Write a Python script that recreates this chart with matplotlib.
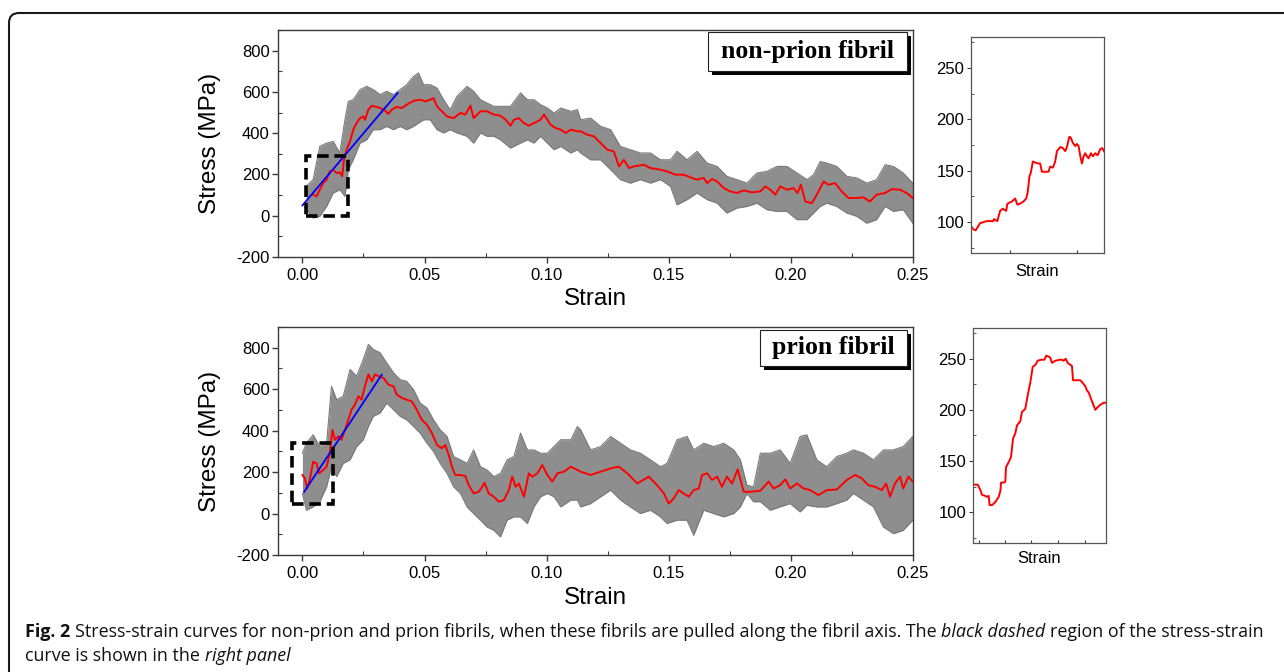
import matplotlib
matplotlib.use('Agg')
import matplotlib.pyplot as plt
from matplotlib.patches import Rectangle, FancyBboxPatch
from matplotlib.transforms import IdentityTransform
from matplotlib.ticker import MultipleLocator, FormatStrFormatter, FixedLocator

# ---------------- data ----------------
# non-prion fibril: smoothed (red) curve
np_red_strain = [0.0044, 0.0058, 0.0071, 0.0085, 0.0099, 0.0112, 0.0126, 0.0140, 0.0153, 0.0163,
                 0.0170, 0.0181, 0.0195, 0.0208, 0.0222, 0.0236, 0.0249, 0.0256, 0.0270, 0.0284,
                 0.0304, 0.0318, 0.0334, 0.0352, 0.0366, 0.0386, 0.0407, 0.0427, 0.0455, 0.0482,
                 0.0503, 0.0523, 0.0537, 0.0551, 0.0571, 0.0592, 0.0619, 0.0647, 0.0667, 0.0688,
                 0.0701, 0.0729, 0.0756, 0.0784, 0.0811, 0.0832, 0.0852, 0.0866, 0.0886, 0.0907,
                 0.0927, 0.0948, 0.0975, 0.0989, 0.1003, 0.1016, 0.1037, 0.1058, 0.1078, 0.1099,
                 0.1126, 0.1139, 0.1166, 0.1193, 0.1221, 0.1248, 0.1275, 0.1296, 0.1316, 0.1337,
                 0.1357, 0.1398, 0.1425, 0.1466, 0.1493, 0.1527, 0.1561, 0.1595, 0.1616, 0.1643,
                 0.1657, 0.1677, 0.1698, 0.1725, 0.1752, 0.1779, 0.1807, 0.1841, 0.1875, 0.1895,
                 0.1916, 0.1936, 0.1956, 0.1984, 0.2011, 0.2027, 0.2041, 0.2059, 0.2086, 0.2106,
                 0.2134, 0.2154, 0.2181, 0.2208, 0.2236, 0.2270, 0.2297, 0.2324, 0.2351, 0.2386,
                 0.2413, 0.2447, 0.2474, 0.2499]
np_red_stress = [102, 94, 126, 158, 175, 215, 223, 207, 210, 191,
                 271, 320, 360, 417, 449, 473, 481, 465, 514, 533,
                 527, 522, 514, 494, 514, 527, 522, 538, 557, 562,
                 554, 562, 570, 530, 506, 481, 473, 498, 490, 533,
                 473, 506, 506, 490, 485, 465, 436, 465, 473, 449,
                 436, 449, 465, 490, 465, 441, 425, 417, 401, 417,
                 409, 409, 393, 385, 352, 320, 312, 239, 271, 231,
                 239, 247, 231, 223, 215, 199, 199, 183, 175, 183,
                 158, 178, 166, 134, 118, 110, 123, 113, 118, 142,
                 126, 102, 142, 126, 134, 110, 150, 69, 61, 102,
                 166, 150, 158, 118, 86, 86, 89, 69, 102, 110,
                 129, 126, 110, 86]

# non-prion fibril: raw (grey) data envelope
np_raw_strain = [0.0016, 0.0044, 0.0071, 0.0099, 0.0126, 0.0153, 0.0174, 0.0188, 0.0208, 0.0236,
                 0.0263, 0.0290, 0.0318, 0.0345, 0.0373, 0.0400, 0.0427, 0.0455, 0.0475, 0.0496,
                 0.0523, 0.0551, 0.0578, 0.0605, 0.0633, 0.0674, 0.0701, 0.0729, 0.0756, 0.0784,
                 0.0811, 0.0852, 0.0893, 0.0921, 0.0948, 0.0975, 0.1003, 0.1030, 0.1058, 0.1099,
                 0.1126, 0.1139, 0.1180, 0.1221, 0.1262, 0.1302, 0.1343, 0.1384, 0.1425, 0.1466,
                 0.1507, 0.1534, 0.1575, 0.1616, 0.1657, 0.1698, 0.1738, 0.1779, 0.1820, 0.1861,
                 0.1902, 0.1943, 0.1984, 0.2025, 0.2066, 0.2093, 0.2120, 0.2147, 0.2188, 0.2229,
                 0.2270, 0.2311, 0.2351, 0.2386, 0.2420, 0.2460, 0.2499]
np_raw_high = [142, 175, 336, 352, 360, 304, 465, 554, 562, 611,
               627, 611, 587, 603, 587, 611, 635, 675, 692, 635,
               635, 619, 562, 514, 579, 627, 603, 562, 546, 530,
               530, 530, 595, 562, 562, 538, 522, 498, 522, 506,
               514, 465, 473, 433, 417, 336, 320, 304, 304, 271,
               271, 312, 271, 312, 255, 239, 191, 175, 158, 207,
               215, 239, 239, 207, 175, 199, 263, 255, 239, 191,
               183, 158, 175, 247, 239, 207, 158]
np_raw_low = [29, -11, -3, 45, 110, 126, 94, 223, 271, 352,
              368, 417, 417, 433, 417, 433, 417, 433, 449, 465,
              465, 417, 401, 417, 401, 385, 352, 401, 385, 385,
              368, 328, 352, 368, 352, 385, 352, 320, 336, 304,
              320, 304, 271, 271, 223, 175, 158, 175, 158, 175,
              142, 53, 78, 110, 78, 61, 13, 37, 45, 61,
              29, 21, 21, -19, -19, 13, 45, 61, 45, 13,
              -3, -36, -19, 45, 21, 29, -36]

# prion fibril: smoothed (red) curve
pr_red_strain = [0.0000, 0.0010, 0.0019, 0.0030, 0.0044, 0.0058, 0.0068, 0.0085, 0.0099, 0.0112,
                 0.0123, 0.0133, 0.0147, 0.0160, 0.0174, 0.0188, 0.0201, 0.0215, 0.0229, 0.0242,
                 0.0256, 0.0270, 0.0284, 0.0297, 0.0311, 0.0332, 0.0352, 0.0373, 0.0386, 0.0407,
                 0.0427, 0.0448, 0.0468, 0.0489, 0.0510, 0.0530, 0.0551, 0.0571, 0.0585, 0.0599,
                 0.0612, 0.0626, 0.0647, 0.0667, 0.0681, 0.0701, 0.0722, 0.0736, 0.0745, 0.0763,
                 0.0784, 0.0804, 0.0825, 0.0845, 0.0859, 0.0873, 0.0886, 0.0907, 0.0927, 0.0941,
                 0.0962, 0.0982, 0.1003, 0.1023, 0.1044, 0.1071, 0.1099, 0.1126, 0.1139, 0.1180,
                 0.1221, 0.1262, 0.1296, 0.1330, 0.1371, 0.1418, 0.1452, 0.1480, 0.1500, 0.1520,
                 0.1541, 0.1561, 0.1582, 0.1602, 0.1623, 0.1636, 0.1657, 0.1677, 0.1698, 0.1718,
                 0.1738, 0.1759, 0.1782, 0.1807, 0.1834, 0.1875, 0.1909, 0.1929, 0.1956, 0.1977,
                 0.1997, 0.2025, 0.2052, 0.2079, 0.2113, 0.2147, 0.2188, 0.2229, 0.2263, 0.2290,
                 0.2317, 0.2345, 0.2372, 0.2390, 0.2406, 0.2426, 0.2447, 0.2460, 0.2481, 0.2499]
pr_red_stress = [186, 170, 121, 162, 250, 242, 194, 210, 226, 291,
                 404, 356, 372, 356, 404, 452, 501, 525, 566, 549,
                 614, 671, 638, 671, 663, 654, 622, 614, 574, 558,
                 549, 541, 501, 452, 428, 388, 331, 315, 331, 283,
                 226, 186, 186, 181, 137, 97, 105, 129, 149, 97,
                 81, 57, 65, 113, 178, 129, 145, 81, 194, 178,
                 194, 234, 186, 154, 194, 202, 226, 210, 202, 186,
                 202, 218, 226, 194, 145, 178, 137, 97, 48, 73,
                 113, 97, 81, 113, 121, 186, 194, 162, 178, 129,
                 178, 145, 213, 105, 105, 110, 154, 121, 137, 165,
                 121, 145, 121, 113, 89, 113, 116, 162, 186, 170,
                 137, 129, 113, 145, 81, 145, 178, 121, 178, 154]

# prion fibril: raw (grey) data envelope
pr_raw_strain = [0.0000, 0.0016, 0.0044, 0.0071, 0.0099, 0.0119, 0.0140, 0.0167, 0.0195, 0.0222,
                 0.0249, 0.0270, 0.0290, 0.0318, 0.0345, 0.0373, 0.0400, 0.0427, 0.0455, 0.0482,
                 0.0510, 0.0537, 0.0564, 0.0592, 0.0619, 0.0647, 0.0674, 0.0701, 0.0729, 0.0756,
                 0.0784, 0.0811, 0.0838, 0.0866, 0.0893, 0.0921, 0.0948, 0.0975, 0.1003, 0.1030,
                 0.1058, 0.1099, 0.1126, 0.1139, 0.1180, 0.1221, 0.1262, 0.1303, 0.1343, 0.1384,
                 0.1425, 0.1466, 0.1493, 0.1534, 0.1575, 0.1602, 0.1643, 0.1684, 0.1725, 0.1766,
                 0.1793, 0.1820, 0.1847, 0.1875, 0.1916, 0.1956, 0.1997, 0.2038, 0.2065, 0.2106,
                 0.2147, 0.2188, 0.2229, 0.2256, 0.2297, 0.2338, 0.2379, 0.2420, 0.2460, 0.2499]
pr_raw_high = [291, 339, 380, 323, 339, 614, 549, 566, 695, 663,
               743, 816, 792, 776, 727, 679, 646, 638, 598, 533,
               509, 452, 404, 372, 275, 259, 242, 307, 226, 210,
               178, 194, 259, 275, 388, 307, 307, 291, 291, 323,
               356, 356, 420, 404, 307, 323, 372, 339, 307, 291,
               259, 226, 242, 356, 372, 307, 339, 323, 339, 307,
               259, 137, 129, 291, 291, 307, 242, 372, 380, 259,
               226, 275, 291, 307, 291, 259, 307, 307, 323, 372]
pr_raw_low = [97, 16, 32, 57, 129, 226, 178, 242, 259, 323,
              356, 420, 469, 485, 533, 501, 469, 452, 420, 388,
              339, 299, 242, 194, 129, 97, 32, 0, -32, -65,
              -81, -113, -32, -16, -16, -48, 32, 81, 97, 81,
              32, 65, 65, 32, 48, 81, 113, 65, 32, 0,
              16, -16, -48, -32, -32, -105, 16, 0, -16, 0,
              32, 97, 57, 57, 16, 32, 48, 8, 40, 32,
              32, 48, 65, 97, 65, 32, -65, -97, -81, -32]

# linear fits (blue) and dashed zoom regions
np_fit_strain = [0.0, 0.039]
np_fit_stress = [50, 595]
pr_fit_strain = [0.0007, 0.0325]
pr_fit_stress = [105, 670]
np_zoom_strain = [0.0014, 0.0187]
np_zoom_stress = [-3, 291]
pr_zoom_strain = [-0.0043, 0.0127]
pr_zoom_stress = [44, 339]

# right panels: zoomed red curves (relative position along the strain window)
np_zoom_pos = [0.000, 0.018, 0.035, 0.068, 0.118, 0.168, 0.173, 0.198, 0.219, 0.239,
               0.264, 0.274, 0.307, 0.332, 0.349, 0.369, 0.394, 0.415, 0.425, 0.440,
               0.450, 0.465, 0.482, 0.508, 0.520, 0.533, 0.565, 0.583, 0.595, 0.616,
               0.633, 0.646, 0.671, 0.691, 0.709, 0.721, 0.739, 0.751, 0.766, 0.784,
               0.796, 0.809, 0.822, 0.834, 0.847, 0.859, 0.872, 0.884, 0.902, 0.917,
               0.935, 0.952, 0.972, 0.987, 1.000]
np_zoom_red = [96, 93, 92, 99, 101, 101, 103, 101, 111, 113,
               111, 118, 120, 123, 117, 118, 120, 123, 128, 145,
               148, 159, 158, 157, 157, 149, 149, 149, 154, 153,
               159, 169, 173, 172, 169, 173, 183, 182, 177, 174,
               176, 174, 164, 157, 164, 167, 164, 162, 167, 164,
               167, 165, 171, 172, 169]
pr_zoom_pos = [0.005, 0.035, 0.055, 0.068, 0.093, 0.105, 0.118, 0.125, 0.143, 0.168,
               0.193, 0.206, 0.211, 0.231, 0.243, 0.248, 0.268, 0.286, 0.301, 0.318,
               0.331, 0.356, 0.368, 0.393, 0.411, 0.431, 0.449, 0.469, 0.486, 0.511,
               0.536, 0.551, 0.569, 0.581, 0.594, 0.619, 0.652, 0.669, 0.682, 0.697,
               0.712, 0.732, 0.744, 0.752, 0.782, 0.807, 0.827, 0.845, 0.857, 0.870,
               0.887, 0.902, 0.920, 0.932, 0.957, 0.982, 1.000]
pr_zoom_red = [127, 127, 122, 117, 116, 115, 116, 107, 107, 110,
               115, 121, 129, 129, 130, 144, 149, 154, 172, 177,
               185, 189, 198, 201, 214, 227, 242, 244, 248, 249,
               249, 253, 252, 251, 246, 248, 249, 249, 248, 250,
               246, 244, 243, 229, 229, 229, 226, 223, 219, 217,
               211, 206, 200, 202, 205, 207, 207]
np_zoom_ticks = [0.295, 0.80]
pr_zoom_ticks = [0.043, 0.238, 0.439, 0.639, 0.840]

panel_labels = ['non-prion fibril', 'prion fibril']
main_xticks = [0.00, 0.05, 0.10, 0.15, 0.20, 0.25]
main_yticks = [-200, 0, 200, 400, 600, 800]
zoom_yticks = [100, 150, 200, 250]

caption_line1 = [("Fig. 2", 'bold', 'normal'),
                 ("Stress-strain curves for non-prion and prion fibrils, when these fibrils are pulled along the fibril axis. The", 'normal', 'normal'),
                 ("black dashed", 'normal', 'italic'),
                 ("region of the stress-strain", 'normal', 'normal')]
caption_line2 = [("curve is shown in the", 'normal', 'normal'),
                 ("right panel", 'normal', 'italic')]

# ---------------- figure ----------------
W, H = 1284, 672
plt.rcParams['font.family'] = ['Liberation Sans', 'DejaVu Sans']
plt.rcParams['axes.unicode_minus'] = False
fig = plt.figure(figsize=(W / 100, H / 100), dpi=100)

GREY_FILL = '#8e8e8e'
GREY_EDGE = '#7a7a7a'
RED = '#ff0000'
BLUE = '#0000ff'
SPINE = '#3a3a3a'

def pix_axes(left, top, right, bottom):
    return fig.add_axes([left / W, 1 - bottom / H, (right - left) / W, (bottom - top) / H])

ax1 = pix_axes(278, 30, 913, 257)
ax2 = pix_axes(278, 327, 913, 555)
ins1 = pix_axes(971, 37, 1104, 253)
ins2 = pix_axes(973, 328, 1106, 543)


def style_main(ax, xlab_y):
    ax.set_xlim(-0.01, 0.25)
    ax.set_ylim(-200, 900)
    ax.xaxis.set_major_locator(FixedLocator(main_xticks))
    ax.xaxis.set_minor_locator(MultipleLocator(0.025))
    ax.yaxis.set_major_locator(FixedLocator(main_yticks))
    ax.yaxis.set_minor_locator(MultipleLocator(100))
    ax.xaxis.set_major_formatter(FormatStrFormatter('%.2f'))
    ax.tick_params(which='major', direction='out', length=4, width=1, labelsize=12,
                   color=SPINE, pad=2)
    ax.tick_params(which='minor', direction='in', length=3, width=0.8, color=SPINE)
    ax.tick_params(axis='x', which='major', pad=4)
    for s in ax.spines.values():
        s.set_color(SPINE)
        s.set_linewidth(1.0)
    ax.set_xlabel('Strain', fontsize=17.5)
    ax.xaxis.set_label_coords(0.5, xlab_y)
    ax.set_ylabel('Stress (MPa)', fontsize=17.5)
    ax.yaxis.set_label_coords(-0.090, 0.5)


def draw_panel(ax, rs, rh, rl, red_s, red_y, fit_s, fit_y, zs, zy, label, box, xlab_y):
    ax.fill_between(rs, rl, rh, color=GREY_FILL, lw=0, zorder=1)
    ax.plot(rs, rh, color=GREY_EDGE, lw=0.8, zorder=1)
    ax.plot(rs, rl, color=GREY_EDGE, lw=0.8, zorder=1)
    ax.plot(red_s, red_y, color=RED, lw=1.4, zorder=3)
    ax.plot(fit_s, fit_y, color=BLUE, lw=1.3, zorder=4)
    ax.add_patch(Rectangle((zs[0], zy[0]), zs[1] - zs[0], zy[1] - zy[0], fill=False,
                           ec='black', lw=2.6, ls=(0, (3.2, 1.6)), zorder=5))
    style_main(ax, xlab_y)
    x0, y0, x1, y1 = box
    dx, dy = 4 / 635, 4 / 227
    ax.add_patch(Rectangle((x0 + dx, y0 - dy), x1 - x0, y1 - y0, transform=ax.transAxes,
                           fc='black', ec='black', lw=0, zorder=6, clip_on=False))
    ax.add_patch(Rectangle((x0, y0), x1 - x0, y1 - y0, transform=ax.transAxes,
                           fc='white', ec='#222222', lw=0.8, zorder=7, clip_on=False))
    ax.text((x0 + x1) / 2, (y0 + y1) / 2, label, transform=ax.transAxes, ha='center',
            va='center', fontsize=18.5, fontweight='bold', family=['Liberation Serif', 'DejaVu Serif'],
            zorder=8)


draw_panel(ax1, np_raw_strain, np_raw_high, np_raw_low, np_red_strain, np_red_stress,
           np_fit_strain, np_fit_stress, np_zoom_strain, np_zoom_stress,
           panel_labels[0], (0.677, 0.821, 0.990, 0.990), -0.137)
draw_panel(ax2, pr_raw_strain, pr_raw_high, pr_raw_low, pr_red_strain, pr_red_stress,
           pr_fit_strain, pr_fit_stress, pr_zoom_strain, pr_zoom_stress,
           panel_labels[1], (0.759, 0.829, 0.990, 0.987), -0.139)


def draw_zoom(ax, pos, vals, ticks, xlab_y):
    ax.plot(pos, vals, color=RED, lw=1.4)
    ax.set_xlim(0, 1)
    ax.set_ylim(70, 280)
    ax.xaxis.set_major_locator(FixedLocator(ticks))
    ax.xaxis.set_minor_locator(FixedLocator([]))
    ax.yaxis.set_major_locator(FixedLocator(zoom_yticks))
    ax.yaxis.set_minor_locator(MultipleLocator(25))
    ax.tick_params(axis='x', which='major', direction='in', length=2.5, width=0.8,
                   labelbottom=False, color=SPINE)
    ax.tick_params(axis='y', which='major', direction='out', length=3, width=0.8,
                   labelsize=12, pad=2, color=SPINE)
    ax.tick_params(axis='y', which='minor', direction='in', length=2.5, width=0.6, color=SPINE)
    for s in ax.spines.values():
        s.set_color('#555555')
        s.set_linewidth(0.9)
    ax.set_xlabel('Strain', fontsize=12)
    ax.xaxis.set_label_coords(0.5, xlab_y)


draw_zoom(ins1, np_zoom_pos, np_zoom_red, np_zoom_ticks, -0.050)
draw_zoom(ins2, pr_zoom_pos, pr_zoom_red, pr_zoom_ticks, -0.036)

# outer rounded frame
fig.patches.append(FancyBboxPatch((9, -30), 1320, H - 13 + 30,
                                  boxstyle='round,pad=0,rounding_size=10',
                                  transform=IdentityTransform(), fill=False,
                                  ec='#1a1a1a', lw=1.5, figure=fig))

# caption
cap = fig.add_axes([0, 0, 1, 1], zorder=-1)
cap.axis('off')
CAP_FONT = ['Open Sans', 'DejaVu Sans']
cap_size = 11.0


def build_line(pieces, x_px, base_px, size):
    arts = []
    first = cap.text(x_px / W, 1 - base_px / H, pieces[0][0], fontsize=size,
                     fontweight=pieces[0][1], fontstyle=pieces[0][2], family=CAP_FONT,
                     ha='left', va='baseline', transform=cap.transAxes, color='#111111')
    arts.append(first)
    prev = first
    for txt, w, st in pieces[1:]:
        a = cap.annotate(txt, xy=(1, 0), xycoords=prev, xytext=(size * 0.26, 0),
                         textcoords='offset points', fontsize=size, fontweight=w,
                         fontstyle=st, family=CAP_FONT, ha='left', va='bottom',
                         color='#111111')
        arts.append(a)
        prev = a
    return arts


line1 = build_line(caption_line1, 25, 637, cap_size)
line2 = build_line(caption_line2, 25, 661, cap_size)
fig.canvas.draw()
r = fig.canvas.get_renderer()
right = line1[-1].get_window_extent(r).x1
scale = (1265 - 25) / (right - 25)
new_size = cap_size * scale
for a in line1 + line2:
    a.set_fontsize(new_size)
    if hasattr(a, 'xyann'):
        a.xyann = (new_size * 0.26, 0)

fig.savefig('out.png', dpi=100)
